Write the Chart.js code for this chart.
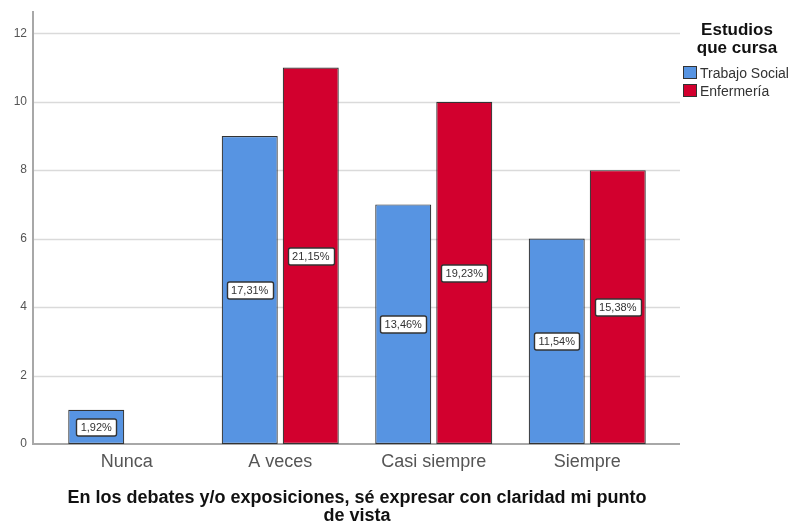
<!DOCTYPE html>
<html>
<head>
<meta charset="utf-8">
<script src="https://cdn.jsdelivr.net/npm/chart.js@4"></script>
<style>
  html, body { margin: 0; padding: 0; background: #fff; }
  #wrap { width: 794px; height: 523px; }
</style>
</head>
<body>
<div id="wrap"><canvas id="chart"></canvas></div>
<script>
const categories = ["Nunca", "A veces", "Casi siempre", "Siempre"];
const trabajoSocial = [1, 9, 7, 6];
const enfermeria = [0, 11, 10, 8];
const pctTrabajoSocial = ["1,92%", "17,31%", "13,46%", "11,54%"];
const pctEnfermeria = ["", "21,15%", "19,23%", "15,38%"];
const yTicks = [0, 2, 4, 6, 8, 10, 12];

const legendTitle = ["Estudios", "que cursa"];
const seriesNames = ["Trabajo Social", "Enfermería"];
const blue = "#5794E2";
const red = "#D2002E";

Chart.defaults.font.family = 'Arial, "Liberation Sans", sans-serif';

// grid and axis lines reach a bit past the category band, like the SPSS output
const frame = {
    id: "frame",
    beforeDatasetsDraw(chart) {
        const { ctx, chartArea: a, scales } = chart;
        const left = a.left - 17, right = a.right + 16;
        ctx.save();
        ctx.strokeStyle = "#dadada";
        ctx.lineWidth = 1.5;
        yTicks.forEach((v) => {
            if (v === 0) return;
            const y = Math.round(scales.y.getPixelForValue(v)) + 0.5;
            ctx.beginPath();
            ctx.moveTo(left, y);
            ctx.lineTo(right, y);
            ctx.stroke();
        });
        ctx.strokeStyle = "#a8a8a8";
        ctx.lineWidth = 2;
        const y0 = scales.y.getPixelForValue(0);
        ctx.beginPath();
        ctx.moveTo(left, a.top);
        ctx.lineTo(left, y0);
        ctx.lineTo(right, y0);
        ctx.stroke();
        ctx.restore();
    }
};

const pctLabels = {
    id: "pctLabels",
    afterDatasetsDraw(chart) {
        const { ctx } = chart;
        const texts = [pctTrabajoSocial, pctEnfermeria];
        ctx.save();
        ctx.font = '11px Arial, "Liberation Sans", sans-serif';
        ctx.textAlign = "center";
        ctx.textBaseline = "middle";
        chart.data.datasets.forEach((ds, di) => {
            chart.getDatasetMeta(di).data.forEach((bar, i) => {
                const t = texts[di][i];
                if (!t || !ds.data[i]) return;
                const cx = bar.x;
                const cy = Math.round((bar.y + bar.base) / 2);
                const w = Math.round(ctx.measureText(t).width) + 9;
                const h = 17;
                ctx.fillStyle = "#fff";
                ctx.strokeStyle = "#333";
                ctx.lineWidth = 1.4;
                ctx.beginPath();
                ctx.roundRect(Math.round(cx - w / 2) + 0.5, cy - h / 2 + 0.5, w, h, 2);
                ctx.fill();
                ctx.stroke();
                ctx.fillStyle = "#333";
                ctx.fillText(t, cx, cy + 1);
            });
        });
        ctx.restore();
    }
};

const sideLegend = {
    id: "sideLegend",
    afterDraw(chart) {
        const { ctx } = chart;
        ctx.save();
        ctx.fillStyle = "#111";
        ctx.font = 'bold 17px Arial, "Liberation Sans", sans-serif';
        ctx.textAlign = "center";
        ctx.textBaseline = "alphabetic";
        legendTitle.forEach((line, i) => ctx.fillText(line, 737, 35 + i * 18));
        ctx.textAlign = "left";
        ctx.font = '14px Arial, "Liberation Sans", sans-serif';
        chart.data.datasets.forEach((ds, i) => {
            const y = 66 + i * 18;
            ctx.fillStyle = ds.backgroundColor;
            ctx.fillRect(683, y, 14, 13);
            ctx.strokeStyle = "#333";
            ctx.lineWidth = 1;
            ctx.strokeRect(683.5, y + 0.5, 13, 12);
            ctx.fillStyle = "#333";
            ctx.fillText(seriesNames[i], 700, y + 12);
        });
        ctx.restore();
    }
};

new Chart(document.getElementById("chart"), {
    type: "bar",
    data: {
        labels: categories,
        datasets: [
            {
                label: seriesNames[0],
                data: trabajoSocial,
                backgroundColor: blue,
                borderColor: "#333",
                borderWidth: 1.2,
                borderSkipped: false,
                categoryPercentage: 0.795,
                barPercentage: 0.918
            },
            {
                label: seriesNames[1],
                data: enfermeria,
                backgroundColor: red,
                borderColor: "#333",
                borderWidth: 1.2,
                borderSkipped: false,
                categoryPercentage: 0.795,
                barPercentage: 0.918
            }
        ]
    },
    options: {
        responsive: true,
        maintainAspectRatio: false,
        animation: false,
        layout: { padding: { top: 11, right: 130, bottom: 0, left: 0 } },
        plugins: {
            legend: { display: false },
            title: { display: false },
            tooltip: { enabled: false }
        },
        scales: {
            x: {
                grid: { display: false, drawTicks: false },
                border: { display: false },
                ticks: { padding: 7, color: "#555", font: { size: 18 } },
                title: {
                    display: true,
                    text: ["En los debates y/o exposiciones, sé expresar con claridad mi punto", "de vista"],
                    color: "#111",
                    font: { size: 18, weight: "bold", lineHeight: 1.0 },
                    padding: { top: 0, bottom: -2 }
                },
                afterFit(scale) {
                    scale.height = 79;
                    scale.paddingLeft = 0;
                    scale.paddingRight = 0;
                }
            },
            y: {
                min: 0,
                max: 12.65,
                grid: { display: false, drawTicks: false },
                border: { display: false },
                ticks: {
                    stepSize: 2,
                    includeBounds: false,
                    padding: 23,
                    color: "#555",
                    font: { size: 12 }
                },
                afterFit(scale) {
                    scale.width = 50;
                    scale.paddingTop = 0;
                    scale.paddingBottom = 0;
                }
            }
        }
    },
    plugins: [frame, pctLabels, sideLegend]
});
</script>
</body>
</html>
